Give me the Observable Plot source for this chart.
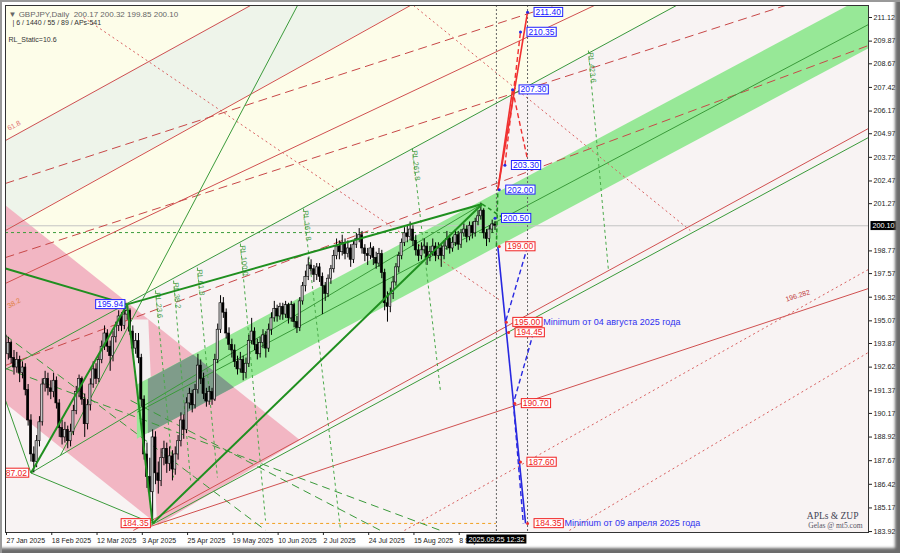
<!DOCTYPE html>
<html><head><meta charset="utf-8">
<script src="https://cdn.jsdelivr.net/npm/d3@7"></script>
<script src="https://cdn.jsdelivr.net/npm/@observablehq/plot@0.6"></script>
<style>
html,body{margin:0;padding:0;background:#fff;}
#wrap{position:relative;width:900px;height:553px;overflow:hidden;}
#bevel{position:absolute;left:0;top:0;width:900px;height:553px;pointer-events:none;
 box-shadow: inset 2px 2px 0 #999, inset -5px -5px 3px #6c6c6c;}
</style></head><body><div id="wrap"><div id="chart"></div><div id="bevel"></div></div>
<script>
// ---------- candles (bar index 0 = 27 Jan 2025, daily bars) ----------
const opens = [194.3,193.3,193.9,193.1,192.6,193.0,192.3,192.6,191.4,189.8,188.0,187.6,188.7,189.7,191.7,192.0,191.5,191.3,191.9,190.7,
189.4,188.9,189.3,188.7,189.2,190.3,191.3,192.0,190.9,189.6,190.6,191.7,192.5,192.0,193.0,193.7,194.4,193.7,193.2,194.2,
194.8,195.3,194.8,195.4,195.6,194.5,193.6,194.0,193.1,190.9,188.0,186.8,186.0,188.9,187.0,186.6,187.8,188.3,187.5,187.9,
187.2,188.0,188.7,189.8,189.3,190.7,191.2,190.6,191.4,192.7,192.0,191.2,190.8,191.3,190.9,193.0,194.6,196.0,195.5,194.4,
193.8,193.5,192.9,192.5,193.0,192.3,192.8,194.0,194.5,193.8,193.3,193.9,194.3,193.6,194.6,195.2,195.7,195.3,195.8,195.4,
195.9,195.2,195.9,195.0,194.7,196.1,196.9,197.4,198.0,197.8,197.5,197.9,197.4,196.9,196.5,197.3,197.8,198.5,199.0,198.7,
199.2,198.6,198.9,198.3,199.1,199.4,199.6,198.9,198.6,198.5,198.9,198.4,198.1,198.6,197.6,196.0,195.8,196.5,197.1,197.9,
198.5,199.2,199.7,199.5,199.9,199.3,198.8,198.5,198.8,199.0,198.4,198.7,199.0,198.5,198.9,198.5,199.0,199.4,198.9,199.2,
199.6,199.1,199.7,199.9,199.5,200.1,199.7,200.3,200.6,200.9,199.7,199.4,199.9,200.17];
const highs = [194.7,194.2,194.0,193.5,193.4,193.2,192.9,192.8,191.7,190.1,188.4,189.0,190.0,192.0,192.4,192.3,191.9,192.3,192.1,190.9,
189.8,189.7,189.5,189.6,190.6,191.6,192.2,192.1,191.2,190.9,192.0,192.9,192.8,193.3,194.0,194.8,194.6,194.0,194.5,195.0,
195.6,195.5,195.8,195.94,195.7,194.8,194.4,194.4,193.3,191.1,188.6,187.8,189.3,189.2,187.6,188.3,188.7,188.6,188.4,188.2,
188.4,189.0,190.2,190.1,191.0,191.5,191.4,191.7,193.3,193.0,192.3,191.5,191.6,191.5,193.3,194.9,196.4,196.3,195.7,194.7,
194.1,193.8,193.2,193.4,193.2,193.1,194.3,195.2,194.7,194.1,194.2,194.6,194.5,194.9,195.5,196.1,195.9,196.0,196.0,196.1,
196.0,196.1,196.0,195.3,196.3,197.1,197.7,198.4,198.3,198.0,198.1,198.1,197.6,197.1,197.5,198.0,198.8,199.4,199.3,199.6,
199.4,199.3,199.1,199.3,199.7,199.95,199.8,199.1,198.9,199.2,199.0,198.7,198.9,198.8,197.8,196.6,196.8,197.4,198.1,198.7,
199.4,200.0,200.1,200.3,200.1,199.6,199.1,199.2,199.4,199.2,199.0,199.4,199.2,199.2,199.1,199.3,199.8,199.6,199.5,199.9,
199.8,199.9,200.2,200.1,200.3,200.3,200.5,200.9,201.3,201.0,199.9,200.1,200.4,200.32];
const lows = [193.0,193.0,192.8,192.2,192.3,191.8,192.0,191.1,189.5,187.6,187.02,187.3,188.4,189.5,191.3,191.1,190.9,191.0,190.4,188.9,
188.5,188.6,188.3,188.4,189.0,190.1,191.0,190.6,188.9,189.3,190.3,191.5,191.7,191.8,192.8,193.5,193.4,192.4,192.9,193.9,
194.5,194.5,194.6,195.1,194.3,193.4,193.3,192.8,190.5,187.7,186.2,185.6,184.35,186.4,185.9,186.3,187.4,187.0,187.1,186.6,
186.9,187.7,188.4,188.8,189.1,190.4,190.2,190.4,191.2,191.7,190.9,190.5,190.6,190.6,190.8,192.8,194.4,195.2,194.1,193.5,
193.1,192.6,192.2,192.3,191.9,192.0,192.6,193.8,193.5,193.0,193.1,193.6,193.1,193.4,194.3,195.0,195.0,195.1,195.1,195.2,
194.9,195.0,194.7,194.4,194.5,195.9,196.6,197.2,197.5,197.1,197.2,197.1,195.4,196.1,196.3,197.0,197.6,198.3,198.3,198.5,
198.3,198.4,197.9,198.1,198.9,199.2,198.6,198.2,198.0,198.3,198.0,197.8,197.9,197.3,195.6,195.0,195.5,196.2,196.9,197.6,
198.3,199.0,199.2,199.3,199.0,198.5,198.2,198.3,198.6,198.0,198.2,198.5,198.2,198.3,197.9,198.3,198.8,198.6,198.7,199.0,
198.8,198.9,199.5,199.2,199.3,199.4,199.5,200.1,200.4,199.4,199.0,199.2,199.7,199.85];
const closes = [193.3,193.9,193.1,192.6,193.0,192.3,192.6,191.4,189.8,188.0,187.6,188.7,189.7,191.7,192.0,191.5,191.3,191.9,190.7,189.4,
188.9,189.3,188.7,189.2,190.3,191.3,192.0,190.9,189.6,190.6,191.7,192.5,192.0,193.0,193.7,194.4,193.7,193.2,194.2,194.8,
195.3,194.8,195.4,195.6,194.5,193.6,194.0,193.1,190.9,188.0,186.8,186.0,188.9,187.0,186.6,187.8,188.3,187.5,187.9,187.2,
188.0,188.7,189.8,189.3,190.7,191.2,190.6,191.4,192.7,192.0,191.2,190.8,191.3,190.9,193.0,194.6,196.0,195.5,194.4,193.8,
193.5,192.9,192.5,193.0,192.3,192.8,194.0,194.5,193.8,193.3,193.9,194.3,193.6,194.6,195.2,195.7,195.3,195.8,195.4,195.9,
195.2,195.9,195.0,194.7,196.1,196.9,197.4,198.0,197.8,197.5,197.9,197.4,196.9,196.5,197.3,197.8,198.5,199.0,198.7,199.2,
198.6,198.9,198.3,199.1,199.4,199.6,198.9,198.6,198.5,198.9,198.4,198.1,198.6,197.6,196.0,195.8,196.5,197.1,197.9,198.5,
199.2,199.7,199.5,199.9,199.3,198.8,198.5,198.8,199.0,198.4,198.7,199.0,198.5,198.9,198.5,199.0,199.4,198.9,199.2,199.6,
199.1,199.7,199.9,199.5,200.1,199.7,200.3,200.6,200.9,199.7,199.4,199.9,200.17,200.10];

// ---------- axes ----------
const xTickIdx = [0,16,32,48,64,80,96,112,128,144,160];
const xTickLabels = ["27 Jan 2025","18 Feb 2025","12 Mar 2025","3 Apr 2025","25 Apr 2025","19 May 2025","10 Jun 2025","2 Jul 2025","24 Jul 2025","15 Aug 2025","8 Sep 2025"];
const yTicks = [211.12,209.87,208.67,207.42,206.17,204.97,203.72,202.47,201.27,198.77,197.57,196.32,195.07,193.87,192.62,191.37,190.17,188.92,187.67,186.42,185.17,183.92];
const lastPrice = 200.10;
const lastBarIdx = 173.5;
const projBarIdx = 184.5;
const stampText = "2025.09.25 12:32";

// ---------- drawn objects: [bar1, price1, bar2, price2] ----------
const greenThick = [[0,197.84,43,195.94],[9,187.02,43,195.94],[43,195.94,52,184.35],[43,195.94,168.5,201.25],[52,184.35,168.5,201.25]];
const greenThin = [[0,190.86,9,187.02],[9,187.02,52,184.35],[9,187.02,168.5,201.25],[51.2,184.24,305,204.77],[0,192.5,237.1,211.755],[103.2,211.755,19.4,187.95],[46.6,190.24,305,210.75]];
const redSolid = [[0,204.61,86.6,211.755],[0,199.85,143.1,211.755],[0,197.05,208.1,211.755],[51.2,184.19,305,196.78],[45.2,183.98,305,205.25]];
const redDashed = [[0,202.34,193.6,211.755],[0,198.42,275.6,211.755],[0,192.71,305,209.64]];
const redDotted = [[27.6,211.12,174.9,196.15],[144.2,211.755,242,199.85],[141,183.98,305,197.79],[199.3,183.98,305,193.4]];
const greenFan = [[0,192.55,153.7,183.98],[44.2,190.86,132.5,183.98],[0,194.3,92,183.98]];
const rlLines = [[53,196.68,59.4,186.78,"RL 23.6"],[59.4,197.2,65.4,186.62,"RL 38.2"],[67.8,197.89,74.9,186.78,"RL 61.8"],
  [83,199.16,91.9,184.5,"RL 100.0"],[105.3,201.01,118.4,183.98,"RL 161.8"],[143.8,204.19,153.7,191.39,"RL 261.8"],[206,209.37,213.1,197.73,"RL 423.6"]];
const levelGreen = 199.74, levelOrange = 184.35;

// projections
const projRedSolid = [[174,202.0,184.5,211.4],[174,202.0,179.2,207.3]];
const projRedDashed = [[176.5,203.3,182,210.35],[179.2,207.3,184.5,203.6]];
const projBlueSolid = [[174,199.0,183.8,184.35]];
const projBlueDashed = [[184.5,199.0,176.7,195.0],[186.6,194.45,179.5,190.7],[179.5,190.7,183,184.35]];
const projGreenDashed = [[173.5,199.0,174,202.0],[168.5,201.25,176,200.5]];

const blueLabels = [[184.5,211.4,"211.40"],[182,210.35,"210.35"],[179.2,207.3,"207.30"],[176.5,203.3,"203.30"],[174.5,202.0,"202.00"],[173,200.5,"200.50"]];
const redLabels = [[174.5,199.0,"199.00"],[177,195.0,"195.00"],[177.8,194.45,"194.45"],[180,190.7,"190.70"],[182,187.6,"187.60"],[184.5,184.35,"184.35"]];
const leftLabels = [[43,195.94,"195.94","blue"],[9,187.02,"187.02","red"],[52,184.35,"184.35","red"]];
const notes = [[177,195.0,"Minimum от 04 августа 2025 года"],[184.5,184.35,"Minimum от 09 апреля 2025 года"]];

// filled areas: [bar, lower price, upper price]
const creamZone = [[0,192.5,211.755],[237.1,211.755,211.755]];
const pinkZone = [[0,190.7,201.17],[54.1,184.24,194.72],[104.2,188.74,188.74]];
const greenBand = [[46.6,188.81,191.67],[305,209.45,212.3]];
const overlapZone = [[50.5,189.1,191.97],[66.5,190.38,193.26],[80.9,191.53,191.53]];
const greyGreenBand = [[0,199.85,204.61],[86.6,207.05,211.755],[143.1,211.755,211.755]];
// light wedge inside the pink zone: [price, left bar, right bar]
const lightWedge = [[184.35,52,53.7],[195.12,43.64,50.64]];

const bars = opens.map((o,i)=>({i,o,h:highs[i],l:lows[i],c:closes[i]}));
const seg = a => a.map(([x1,y1,x2,y2,t])=>({x1,y1,x2,y2,t}));
const area = a => a.map(([x,y1,y2])=>({x,y1,y2}));
const lab = a => a.map(([x,y,t,c])=>({x,y,t,c}));
const link = (a, o) => Plot.link(seg(a), {x1:"x1",y1:"y1",x2:"x2",y2:"y2",clip:true,...o});

const sans = "Liberation Sans, Arial, sans-serif";
const plot = Plot.plot({
  width: 900, height: 553,
  marginLeft: 5, marginRight: 32, marginTop: 5, marginBottom: 21,
  x: {domain: [0, 305]},
  y: {domain: [183.87, 211.755]},
  style: {fontFamily: sans, fontSize: "8px", background: "#fff", color: "#222"},
  marks: [
    Plot.frame({fill: "#f8f3f3"}),
    // backgrounds
    Plot.areaY(area(creamZone), {x:"x",y1:"y1",y2:"y2",fill:"#fdfde9",clip:true}),
    Plot.areaY(area(greyGreenBand), {x:"x",y1:"y1",y2:"y2",fill:"#eef4ea",clip:true}),
    Plot.areaY(area(pinkZone), {x:"x",y1:"y1",y2:"y2",fill:"#f2b6c3",clip:true}),
    Plot.areaX(lightWedge.map(([y,x1,x2])=>({y,x1,x2})), {y:"y",x1:"x1",x2:"x2",fill:"#f4f1f1",clip:true}),
    Plot.areaY(area(greenBand), {x:"x",y1:"y1",y2:"y2",fill:"#97e897",clip:true}),
    Plot.areaY(area(overlapZone), {x:"x",y1:"y1",y2:"y2",fill:"#7f9c8a",clip:true}),
    // levels
    Plot.ruleY([lastPrice], {stroke:"#c4c4c4", strokeWidth:1, clip:true}),
    Plot.ruleY([levelGreen], {x1:0, x2:lastBarIdx, stroke:"#3c9c3c", strokeDasharray:"3,3", clip:true}),
    Plot.ruleY([levelOrange], {x1:52, x2:lastBarIdx, stroke:"#f0a020", strokeDasharray:"3,3", clip:true}),
    // lines
    link(redSolid, {stroke:"#d05050", strokeWidth:1}),
    link(redDashed, {stroke:"#c84848", strokeWidth:1, strokeDasharray:"9,5"}),
    link(redDotted, {stroke:"#d86060", strokeWidth:1, strokeDasharray:"2,3"}),
    link(greenThin, {stroke:"#3a9a3a", strokeWidth:1}),
    link(greenFan, {stroke:"#3a9a3a", strokeWidth:1, strokeDasharray:"8,5"}),
    link(rlLines, {stroke:"#4aaa4a", strokeWidth:1, strokeDasharray:"3,3"}),
    Plot.text(seg(rlLines), {x:"x1", y:"y1", text:"t", rotate:84, textAnchor:"start", dx:2, dy:2, fill:"#4aa04a", fontSize:7.5, clip:true}),
    Plot.ruleX([lastBarIdx, projBarIdx], {stroke:"#666", strokeDasharray:"2,2"}),
    // candles
    Plot.ruleX(bars, {x:"i", y1:"l", y2:"h", stroke:"#000", strokeWidth:1, clip:true}),
    Plot.rect(bars, {x1:d=>d.i-0.38, x2:d=>d.i+0.38, y1:"o", y2:"c", fill:d=>d.c>=d.o?"#c8c8c8":"#000", stroke:"#000", strokeWidth:0.6, clip:true}),
    // trend lines on top
    link(greenThick, {stroke:"#1f8f1f", strokeWidth:2}),
    link(projGreenDashed, {stroke:"#1f8f1f", strokeWidth:1.5, strokeDasharray:"4,3"}),
    link(projRedSolid, {stroke:"#f03030", strokeWidth:1.6}),
    link(projRedDashed, {stroke:"#f03030", strokeWidth:1.4, strokeDasharray:"5,3"}),
    link(projBlueSolid, {stroke:"#2828e0", strokeWidth:1.6}),
    link(projBlueDashed, {stroke:"#2828e0", strokeWidth:1.4, strokeDasharray:"5,3"}),
    // labels
    Plot.text(["61.8"], {x:()=>3, y:()=>205.4, rotate:-29, fill:"#e07070", fontSize:7}),
    Plot.text(["38.2"], {x:()=>3, y:()=>196.0, rotate:-29, fill:"#e08040", fontSize:7}),
    Plot.text(["196.282"], {x:()=>280, y:()=>196.4, rotate:-18, fill:"#c04040", fontSize:7}),
    Plot.dot(lab(blueLabels), {x:"x", y:"y", r:1.5, fill:"#2828e0"}),
    Plot.dot(lab(redLabels), {x:"x", y:"y", r:1.5, fill:"#f03030"}),
    Plot.text(lab(blueLabels), {x:"x", y:"y", text:"t", dx:8, textAnchor:"start", fill:"#2020ff", fontSize:8.5, className:"bluebox"}),
    Plot.text(lab(redLabels), {x:"x", y:"y", text:"t", dx:8, textAnchor:"start", fill:"#f02020", fontSize:8.5, className:"redbox"}),
    Plot.text(lab(leftLabels.filter(d=>d[3]==="blue")), {x:"x", y:"y", text:"t", dx:-4, textAnchor:"end", fill:"#2020ff", fontSize:8.5, className:"bluebox"}),
    Plot.text(lab(leftLabels.filter(d=>d[3]==="red")), {x:"x", y:"y", text:"t", dx:-4, textAnchor:"end", fill:"#f02020", fontSize:8.5, className:"redbox", clip:true}),
    Plot.text(lab(notes), {x:"x", y:"y", text:"t", dx:37, textAnchor:"start", fill:"#3030f0", fontSize:9}),
    // header
    Plot.text(["▼ GBPJPY,Daily  200.17 200.32 199.85 200.10"], {frameAnchor:"top-left", dx:3, dy:6, textAnchor:"start", fill:"#666", fontSize:8}),
    Plot.text(["| 6 / 1440 / 55 / 89 / APs-541"], {frameAnchor:"top-left", dx:7, dy:15, textAnchor:"start", fill:"#333", fontSize:7}),
    Plot.text(["RL_Static=10.6"], {frameAnchor:"top-left", dx:3, dy:32, textAnchor:"start", fill:"#333", fontSize:7}),
    Plot.text(["APLs & ZUP"], {frameAnchor:"bottom-right", dx:-10, dy:-14, textAnchor:"end", fill:"#445", fontSize:9.5, fontFamily:"Liberation Serif, DejaVu Serif, serif"}),
    Plot.text(["Gelas @ mt5.com"], {frameAnchor:"bottom-right", dx:-6, dy:-5, textAnchor:"end", fill:"#556", fontSize:7.5, fontFamily:"Liberation Serif, DejaVu Serif, serif"}),
    // axes
    Plot.frame({stroke:"#333"}),
    Plot.axisY(yTicks, {anchor:"right", tickSize:3, tickPadding:2, tickFormat:d=>d.toFixed(2), fontFamily:sans, fontSize:7.2, stroke:"#222", fill:"#222"}),
    Plot.axisX(xTickIdx, {anchor:"bottom", tickSize:3, tickPadding:3, tickFormat:d=>xTickLabels[xTickIdx.indexOf(d)], textAnchor:"start", dx:1, fontFamily:sans, fontSize:7, stroke:"#222", fill:"#222"}),
    Plot.text([lastPrice], {y:d=>d, frameAnchor:"right", dx:4, textAnchor:"start", text:d=>d.toFixed(2), fill:"#fff", fontFamily:sans, fontSize:7.2, className:"blackbox"}),
    Plot.text([stampText], {x:()=>lastBarIdx, frameAnchor:"bottom", dy:9, textAnchor:"middle", fill:"#fff", fontFamily:sans, fontSize:7.2, className:"blackbox"})
  ]
});
document.getElementById("chart").append(plot);

function boxify(cls, fill, stroke) {
  plot.querySelectorAll(`g.${cls} text, .${cls} text`).forEach(t => {
    const b = t.getBBox();
    const r = document.createElementNS("http://www.w3.org/2000/svg", "rect");
    r.setAttribute("x", b.x - 1.5); r.setAttribute("y", b.y + 0.5);
    r.setAttribute("width", b.width + 3); r.setAttribute("height", b.height - 1);
    r.setAttribute("fill", fill); r.setAttribute("stroke", stroke); r.setAttribute("stroke-width", 1);
    if (t.getAttribute("transform")) r.setAttribute("transform", t.getAttribute("transform"));
    t.parentNode.insertBefore(r, t);
  });
}
boxify("bluebox", "#fff", "#2020ff");
boxify("redbox", "#fff", "#f02020");
boxify("blackbox", "#000", "#000");
</script></body></html>
